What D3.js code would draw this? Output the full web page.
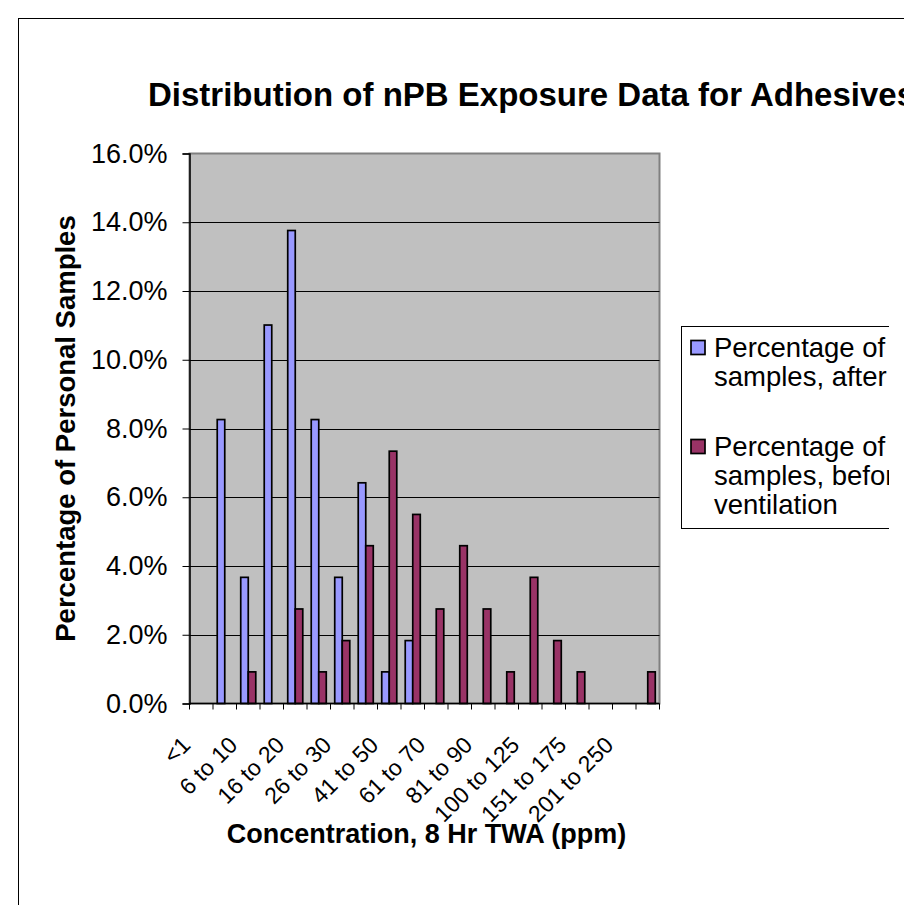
<!DOCTYPE html>
<html>
<head>
<meta charset="utf-8">
<script src="https://cdn.jsdelivr.net/npm/d3@7"></script>
<style>
  html, body { margin: 0; padding: 0; background: #fff; }
  svg { display: block; }
  text { font-family: Arial, "Liberation Sans", sans-serif; fill: #000; }
</style>
</head>
<body>
<svg id="chart" width="904" height="905"></svg>
<script>
// Concentration bins (8 Hr TWA, ppm)
const categories = [
  "<1", "1 to 5", "6 to 10", "11 to 15", "16 to 20", "21 to 25", "26 to 30",
  "31 to 40", "41 to 50", "51 to 60", "61 to 70", "71 to 80", "81 to 90",
  "91 to 99", "100 to 125", "126 to 150", "151 to 175", "176 to 200",
  "201 to 250", ">250"
];

// Percentage of all personal samples in each bin
const afterValues = [
  0, 8.26, 3.67, 11.01, 13.76, 8.26, 3.67, 6.42, 0.92, 1.83,
  0, 0, 0, 0, 0, 0, 0, 0, 0, 0
];
const beforeValues = [
  0, 0, 0.92, 0, 2.75, 0.92, 1.83, 4.59, 7.34, 5.50,
  2.75, 4.59, 2.75, 0.92, 3.67, 1.83, 0.92, 0, 0, 0.92
];

const yTicks = [0, 2, 4, 6, 8, 10, 12, 14, 16];

const seriesKeys = ["after", "before"];
const seriesColors = ["#9999FF", "#993366"];
const legendLines = [
  ["Percentage of all", "samples, after"],
  ["Percentage of all", "samples, before", "ventilation"]
];

const titleText = "Distribution of nPB Exposure Data for Adhesives";
const xTitle = "Concentration, 8 Hr TWA (ppm)";
const yTitle = "Percentage of Personal Samples";

const svg = d3.select("#chart");

// chart area frame
svg.append("rect")
  .attr("x", 18.5).attr("y", 18.5)
  .attr("width", 1000).attr("height", 1000)
  .attr("fill", "#fff").attr("stroke", "#000").attr("stroke-width", 1);

const plot = { left: 189.5, right: 659.5, top: 153.5, bottom: 703.5 };

const x0 = d3.scaleBand()
  .domain(categories)
  .range([plot.left, plot.right])
  .paddingInner(0).paddingOuter(0);

const x1 = d3.scaleBand()
  .domain(seriesKeys)
  .range([x0.bandwidth() * 0.18, x0.bandwidth() * 0.82])
  .padding(0);

const y = d3.scaleLinear()
  .domain([0, 16])
  .range([plot.bottom, plot.top]);

// plot background
svg.append("rect")
  .attr("x", plot.left).attr("y", plot.top)
  .attr("width", plot.right - plot.left)
  .attr("height", plot.bottom - plot.top)
  .attr("fill", "#C0C0C0")
  .attr("stroke", "#808080").attr("stroke-width", 2);

// gridlines
svg.append("g")
  .selectAll("line")
  .data(yTicks.filter(t => t > 0 && t < 16))
  .join("line")
  .attr("x1", plot.left).attr("x2", plot.right)
  .attr("y1", d => Math.round(y(d)) + 0.5).attr("y2", d => Math.round(y(d)) + 0.5)
  .attr("stroke", "#000").attr("stroke-width", 1);

// bars
const rows = categories.map((c, i) => ({
  cat: c,
  vals: [afterValues[i], beforeValues[i]]
}));

const groups = svg.append("g")
  .selectAll("g")
  .data(rows)
  .join("g")
  .attr("transform", d => `translate(${x0(d.cat)},0)`);

groups.selectAll("rect")
  .data(d => d.vals.map((v, k) => ({ key: seriesKeys[k], v, k })).filter(e => e.v > 0))
  .join("rect")
  .attr("x", e => x1(e.key))
  .attr("width", x1.bandwidth())
  .attr("y", e => y(e.v))
  .attr("height", e => y(0) - y(e.v))
  .attr("fill", e => seriesColors[e.k])
  .attr("stroke", "#000")
  .attr("stroke-width", 1.7);

// y axis
const yAxis = svg.append("g")
  .attr("transform", `translate(${plot.left},0)`)
  .call(d3.axisLeft(y).tickValues(yTicks).tickSize(7).tickPadding(15)
    .tickFormat(d => d.toFixed(1) + "%"));
yAxis.select(".domain").attr("stroke", "#000").attr("stroke-width", 1.5);
yAxis.selectAll(".tick line").attr("stroke", "#000");
yAxis.selectAll("text")
  .style("font-size", "27px")
  .attr("fill", "#000");

// x axis baseline and boundary ticks
const xAxis = svg.append("g");
xAxis.append("line")
  .attr("x1", plot.left).attr("x2", plot.right)
  .attr("y1", plot.bottom).attr("y2", plot.bottom)
  .attr("stroke", "#000").attr("stroke-width", 1.5);
const boundaries = categories.map(c => x0(c)).concat([x0(categories[categories.length - 1]) + x0.step()]);
xAxis.selectAll("line.tk")
  .data(boundaries)
  .join("line")
  .attr("class", "tk")
  .attr("x1", d => d).attr("x2", d => d)
  .attr("y1", plot.bottom).attr("y2", plot.bottom + 6)
  .attr("stroke", "#000").attr("stroke-width", 1);

// rotated category labels, every other bin
xAxis.selectAll("text")
  .data(categories.filter((c, i) => i % 2 === 0))
  .join("text")
  .attr("transform", c => `translate(${x0(c) + x0.bandwidth() / 2 - 9.5},${plot.bottom + 43}) rotate(-45)`)
  .attr("text-anchor", "end")
  .style("font-size", "23px")
  .text(c => c);

// titles
svg.append("text")
  .attr("x", 148).attr("y", 106)
  .style("font-size", "33px").style("font-weight", "bold")
  .text(titleText);

svg.append("text")
  .attr("x", (plot.left + plot.right) / 2 + 2).attr("y", 843)
  .attr("text-anchor", "middle")
  .style("font-size", "27px").style("font-weight", "bold")
  .text(xTitle);

svg.append("text")
  .attr("transform", `translate(75,${(plot.top + plot.bottom) / 2}) rotate(-90)`)
  .attr("text-anchor", "middle")
  .style("font-size", "27.5px").style("font-weight", "bold")
  .text(yTitle);

// legend
const legend = { left: 681.5, top: 326.5, bottom: 528.5, clipRight: 889 };
svg.append("clipPath").attr("id", "legclip")
  .append("rect")
  .attr("x", legend.left - 2).attr("y", legend.top - 2)
  .attr("width", legend.clipRight - legend.left + 2)
  .attr("height", legend.bottom - legend.top + 4);

const lg = svg.append("g").attr("clip-path", "url(#legclip)");
lg.append("rect")
  .attr("x", legend.left).attr("y", legend.top)
  .attr("width", 400).attr("height", legend.bottom - legend.top)
  .attr("fill", "#fff").attr("stroke", "#000").attr("stroke-width", 1);

const entryTop = [347.5, 446.5];
const lineGap = 29;
legendLines.forEach((lines, k) => {
  lg.append("rect")
    .attr("x", 691).attr("y", entryTop[k] - 7)
    .attr("width", 14).attr("height", 14)
    .attr("fill", seriesColors[k])
    .attr("stroke", "#000").attr("stroke-width", 1.7);
  lg.append("text")
    .style("font-size", "27.5px")
    .selectAll("tspan")
    .data(lines)
    .join("tspan")
    .attr("x", 714)
    .attr("y", (d, i) => entryTop[k] + i * lineGap)
    .attr("dy", "0.35em")
    .text(d => d);
});
</script>
</body>
</html>
